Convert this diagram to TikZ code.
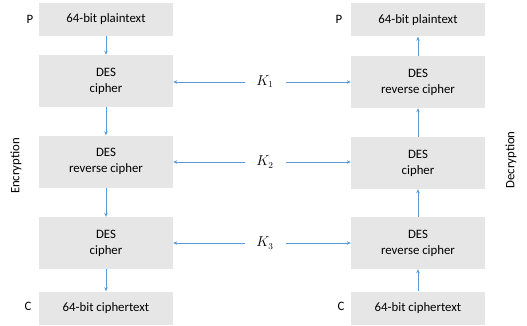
\documentclass[tikz,border=0pt]{standalone}
\usepackage{fontspec}
\setmainfont{Carlito}
\usetikzlibrary{arrows.meta}
\definecolor{boxgray}{HTML}{E7E6E6}
\definecolor{arrblue}{HTML}{5B9BD5}
\begin{document}
\begin{tikzpicture}[x=1pt,y=-1pt,
  blk/.style={fill=boxgray,draw=none,minimum width=134pt,inner sep=0pt,align=center,font=\fontsize{12.8}{16}\selectfont},
  onebox/.style={blk,minimum height=33pt},
  twobox/.style={blk,minimum height=52pt},
  conn/.style={draw=arrblue,line width=0.6pt,-{Stealth[length=4pt,width=3.5pt]}},
  lbl/.style={font=\fontsize{12.8}{15}\selectfont},
  keylbl/.style={font=\fontsize{13.5}{15}\selectfont}]
\useasboundingbox (0,0) rectangle (527,326);
% left column
\node[onebox] (lp) at (106,19.5) {64-bit plaintext};
\node[twobox] (l1) at (106,81) {DES\\cipher};
\node[twobox] (l2) at (106,161.5) {DES\\reverse cipher};
\node[twobox] (l3) at (106,243) {DES\\cipher};
\node[onebox] (lc) at (106,308) {64-bit ciphertext};
% right column
\node[onebox] (rp) at (418,20) {64-bit plaintext};
\node[twobox] (r1) at (418,82) {DES\\reverse cipher};
\node[twobox] (r2) at (418,163) {DES\\cipher};
\node[twobox] (r3) at (418,243) {DES\\reverse cipher};
\node[onebox] (rc) at (418,308) {64-bit ciphertext};
% keys
\node[keylbl] (k1) at (265,82) {$K_1$};
\node[keylbl] (k2) at (265,162) {$K_2$};
\node[keylbl] (k3) at (265,243) {$K_3$};
% side labels
\node[lbl] (pl) at (30,19) {P};
\node[lbl] (cl) at (28,306) {C};
\node[lbl] (pr) at (339,19) {P};
\node[lbl] (cr) at (341,306) {C};
\node[lbl,rotate=90] (enc) at (16,166) {Encryption};
\node[lbl,rotate=90] (dec) at (511,160) {Decryption};
% vertical arrows
\draw[conn] (lp.south) -- (l1.north);
\draw[conn] (l1.south) -- (l2.north);
\draw[conn] (l2.south) -- (l3.north);
\draw[conn] (l3.south) -- (lc.north);
\draw[conn] (rc.north) -- (r3.south);
\draw[conn] (r3.north) -- (r2.south);
\draw[conn] (r2.north) -- (r1.south);
\draw[conn] (r1.north) -- (rp.south);
% key arrows
\draw[conn] ([xshift=-20pt]k1.center) -- (l1.east |- k1);
\draw[conn] ([xshift=21pt]k1.center) -- (r1.west |- k1);
\draw[conn] ([xshift=-20pt]k2.center) -- (l2.east |- k2);
\draw[conn] ([xshift=21pt]k2.center) -- (r2.west |- k2);
\draw[conn] ([xshift=-20pt]k3.center) -- (l3.east |- k3);
\draw[conn] ([xshift=21pt]k3.center) -- (r3.west |- k3);
\end{tikzpicture}
\end{document}
